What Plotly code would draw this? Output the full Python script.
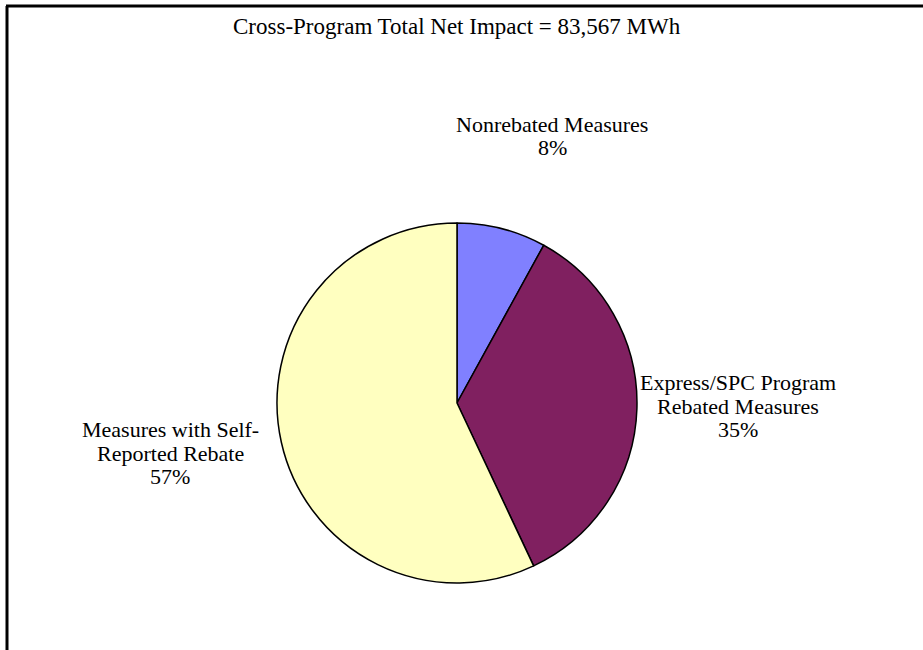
import plotly.graph_objects as go

# Share of cross-program net impact by measure category
categories = [
    "Nonrebated Measures",
    "Express/SPC Program<br>Rebated Measures",
    "Measures with Self-<br>Reported Rebate",
]
shares = [8, 35, 57]
colors = ["#8080FF", "#802060", "#FFFFC0"]
total_label = "Cross-Program Total Net Impact = 83,567 MWh"

W, H = 923, 650
FONT = "Liberation Serif, Times New Roman, serif"
FS = 22
LINE_GAP = 23.5  # px between label lines

# pie geometry in pixels
cx, cy, r = 457, 403, 180

fig = go.Figure(
    go.Pie(
        labels=categories,
        values=shares,
        sort=False,
        direction="clockwise",
        rotation=0,
        textinfo="none",
        marker=dict(colors=colors, line=dict(color="black", width=1.5)),
        domain=dict(x=[(cx - r) / W, (cx + r) / W], y=[1 - (cy + r) / H, 1 - (cy - r) / H]),
        showlegend=False,
    )
)

# label anchor points (pixel centres of each text block)
label_pos = [(552, 136), (738, 406), (170, 453)]
annotations = [
    dict(
        text=total_label,
        x=457 / W, y=1 - 26 / H, xref="paper", yref="paper",
        xanchor="center", yanchor="middle",
        showarrow=False, font=dict(family=FONT, size=23, color="black"),
    )
]
for name, val, (px, py) in zip(categories, shares, label_pos):
    lines = name.split("<br>") + [f"{val}%"]
    n = len(lines)
    for i, line in enumerate(lines):
        ly = py + (i - (n - 1) / 2) * LINE_GAP
        annotations.append(
            dict(
                text=line,
                x=px / W, y=1 - ly / H, xref="paper", yref="paper",
                xanchor="center", yanchor="middle",
                showarrow=False, align="center",
                font=dict(family=FONT, size=FS, color="black"),
            )
        )

# chart frame (top and left edges inside the window)
shapes = [
    dict(type="line", xref="paper", yref="paper", x0=6 / W, x1=1.01, y0=1 - 6 / H, y1=1 - 6 / H,
         line=dict(color="black", width=3)),
    dict(type="line", xref="paper", yref="paper", x0=7 / W, x1=7 / W, y0=1 - 6 / H, y1=-0.01,
         line=dict(color="black", width=3)),
]

fig.update_layout(
    width=W, height=H,
    margin=dict(l=0, r=0, t=0, b=0),
    paper_bgcolor="white", plot_bgcolor="white",
    annotations=annotations, shapes=shapes,
    font=dict(family=FONT, size=FS),
)

fig.write_html("out.html")
